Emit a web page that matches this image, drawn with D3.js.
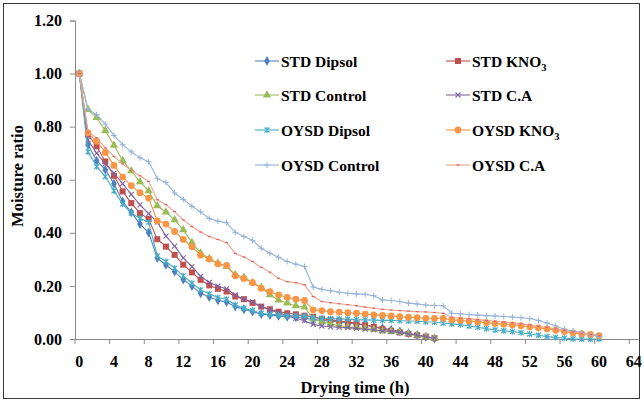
<!DOCTYPE html>
<html>
<head>
<meta charset="utf-8">
<script src="https://cdn.jsdelivr.net/npm/d3@7"></script>
<style>
  body { margin: 0; background: #fff; }
  text { font-family: "Liberation Serif", "Times New Roman", serif; font-weight: bold; fill: #000; }
</style>
</head>
<body>
<div id="chart"></div>
<script>
// hours on the category axis
var hours = d3.range(0, 65);
var xTicks = d3.range(0, 65, 4);
var yTicks = [0, 0.2, 0.4, 0.6, 0.8, 1.0, 1.2];

// moisture ratio, one value per hour
var stdDipsol = [1, 0.732, 0.672, 0.638, 0.585, 0.518, 0.477, 0.433, 0.401, 0.305, 0.279, 0.254, 0.224, 0.199, 0.172, 0.158, 0.146, 0.139, 0.122, 0.112, 0.103, 0.094, 0.090, 0.087, 0.084, 0.082, 0.078, 0.074, 0.070, 0.067, 0.064, 0.060, 0.057, 0.052, 0.046, 0.041, 0.035, 0.029, 0.022, 0.015, 0.008, 0.002];
var stdKNO3 = [1, 0.770, 0.726, 0.669, 0.615, 0.556, 0.512, 0.474, 0.452, 0.376, 0.348, 0.317, 0.280, 0.251, 0.223, 0.202, 0.189, 0.179, 0.160, 0.150, 0.136, 0.122, 0.112, 0.103, 0.097, 0.093, 0.088, 0.084, 0.076, 0.072, 0.068, 0.064, 0.059, 0.053, 0.046, 0.038, 0.031, 0.025, 0.019, 0.014, 0.009, 0.003];
var stdControl = [1, 0.864, 0.834, 0.785, 0.730, 0.672, 0.634, 0.592, 0.558, 0.502, 0.478, 0.449, 0.411, 0.363, 0.324, 0.303, 0.286, 0.273, 0.243, 0.232, 0.213, 0.195, 0.166, 0.147, 0.135, 0.125, 0.120, 0.076, 0.065, 0.057, 0.050, 0.046, 0.043, 0.040, 0.036, 0.030, 0.028, 0.024, 0.019, 0.013, 0.008, 0.003];
var stdCA = [1, 0.750, 0.700, 0.660, 0.625, 0.585, 0.545, 0.505, 0.472, 0.440, 0.388, 0.350, 0.306, 0.273, 0.236, 0.213, 0.199, 0.189, 0.166, 0.150, 0.140, 0.122, 0.109, 0.099, 0.088, 0.078, 0.069, 0.055, 0.049, 0.046, 0.044, 0.043, 0.040, 0.037, 0.034, 0.031, 0.028, 0.024, 0.019, 0.014, 0.009, 0.003];
var oysdDipsol = [1, 0.705, 0.650, 0.612, 0.558, 0.508, 0.474, 0.455, 0.440, 0.313, 0.292, 0.267, 0.238, 0.210, 0.185, 0.170, 0.156, 0.150, 0.128, 0.116, 0.107, 0.097, 0.093, 0.091, 0.088, 0.087, 0.087, 0.080, 0.078, 0.077, 0.076, 0.075, 0.073, 0.072, 0.071, 0.070, 0.070, 0.069, 0.068, 0.067, 0.065, 0.064, 0.060, 0.057, 0.054, 0.049, 0.044, 0.039, 0.034, 0.031, 0.028, 0.024, 0.019, 0.014, 0.009, 0.006, 0.003, 0.001, 0, 0, 0];
var oysdKNO3 = [1, 0.777, 0.745, 0.703, 0.654, 0.610, 0.578, 0.551, 0.531, 0.445, 0.433, 0.405, 0.375, 0.348, 0.316, 0.301, 0.283, 0.277, 0.238, 0.228, 0.212, 0.191, 0.178, 0.166, 0.157, 0.150, 0.145, 0.110, 0.107, 0.103, 0.101, 0.099, 0.097, 0.094, 0.091, 0.089, 0.087, 0.084, 0.082, 0.080, 0.078, 0.078, 0.078, 0.072, 0.070, 0.068, 0.064, 0.062, 0.058, 0.056, 0.053, 0.050, 0.046, 0.042, 0.038, 0.033, 0.028, 0.023, 0.019, 0.017, 0.013];
var oysdControl = [1, 0.866, 0.845, 0.810, 0.767, 0.732, 0.705, 0.683, 0.668, 0.604, 0.590, 0.550, 0.526, 0.500, 0.479, 0.454, 0.444, 0.438, 0.402, 0.386, 0.372, 0.342, 0.323, 0.308, 0.292, 0.282, 0.273, 0.196, 0.187, 0.182, 0.176, 0.172, 0.170, 0.168, 0.163, 0.147, 0.145, 0.141, 0.135, 0.132, 0.128, 0.126, 0.125, 0.097, 0.095, 0.092, 0.090, 0.088, 0.087, 0.085, 0.083, 0.080, 0.077, 0.070, 0.060, 0.049, 0.037, 0.030, 0.024, 0.017, 0.009];
var oysdCA = [1, 0.780, 0.758, 0.720, 0.688, 0.660, 0.635, 0.615, 0.594, 0.525, 0.506, 0.480, 0.449, 0.424, 0.403, 0.386, 0.375, 0.363, 0.322, 0.309, 0.292, 0.270, 0.252, 0.229, 0.216, 0.212, 0.204, 0.160, 0.141, 0.137, 0.133, 0.129, 0.125, 0.120, 0.116, 0.112, 0.109, 0.107, 0.105, 0.103, 0.102, 0.100, 0.097, 0.082, 0.079, 0.076, 0.073, 0.070, 0.067, 0.064, 0.061, 0.057, 0.053, 0.048, 0.043, 0.038, 0.033, 0.027, 0.022, 0.017, 0.012];

var series = [
  {name: "STD Dipsol", sub: "", values: stdDipsol, color: "#4F81BD", mark: "diamond"},
  {name: "STD KNO", sub: "3", values: stdKNO3, color: "#C0504D", mark: "square"},
  {name: "STD Control", sub: "", values: stdControl, color: "#9BBB59", mark: "triangle"},
  {name: "STD C.A", sub: "", values: stdCA, color: "#8064A2", mark: "cross"},
  {name: "OYSD Dipsol", sub: "", values: oysdDipsol, color: "#4BACC6", mark: "star"},
  {name: "OYSD KNO", sub: "3", values: oysdKNO3, color: "#F79646", mark: "circle"},
  {name: "OYSD Control", sub: "", values: oysdControl, color: "#95B3D7", mark: "plus"},
  {name: "OYSD C.A", sub: "", values: oysdCA, color: "#E9A38F", mark: "dash"}
];

var W = 644, H = 402;
var svg = d3.select("#chart").append("svg")
  .attr("width", W).attr("height", H);

// outer frame
svg.append("rect")
  .attr("x", 3.5).attr("y", 3.5)
  .attr("width", 636).attr("height", 395)
  .attr("fill", "none").attr("stroke", "#3a3a3a").attr("stroke-width", 1);

var x = d3.scaleBand().domain(hours).range([75, 638]);
var y = d3.scaleLinear().domain([0, 1.2]).range([339, 20.5]);
var cx = function(h) { return x(h) + x.bandwidth() / 2; };

//Y axis
var yAxis = svg.append("g")
  .attr("transform", "translate(75,0)")
  .call(d3.axisLeft(y).tickValues(yTicks).tickSize(5).tickPadding(8).tickFormat(d3.format(".2f")));
yAxis.selectAll("text").style("font-size", "16px");

//X axis: labels in the band centres, tick marks on the band edges
var xAxis = svg.append("g")
  .attr("transform", "translate(0,339)")
  .call(d3.axisBottom(x).tickValues(xTicks).tickSize(0).tickPadding(17));
xAxis.selectAll("text").style("font-size", "16px");
xAxis.selectAll(".tick").append("line")
  .attr("x1", -x.bandwidth() / 2).attr("x2", -x.bandwidth() / 2)
  .attr("y1", 0).attr("y2", 5);

svg.selectAll(".domain, .tick line")
  .attr("stroke", "#8a8a8a").attr("stroke-width", 1);

//Axis titles
svg.append("text")
  .attr("x", 355).attr("y", 393)
  .attr("text-anchor", "middle")
  .style("font-size", "16.5px")
  .text("Drying time (h)");
svg.append("text")
  .attr("transform", "translate(23,176) rotate(-90)")
  .attr("text-anchor", "middle")
  .style("font-size", "16.5px")
  .text("Moisture ratio");

//Markers
var drawMark = function(g, kind, color) {
  if (kind === "diamond") {
    g.append("path").attr("d", d3.symbol(d3.symbolDiamond, 28)()).attr("fill", color);
  } else if (kind === "square") {
    g.append("rect").attr("x", -3).attr("y", -3).attr("width", 6).attr("height", 6).attr("fill", color);
  } else if (kind === "triangle") {
    g.append("path").attr("d", d3.symbol(d3.symbolTriangle, 30)()).attr("fill", color);
  } else if (kind === "circle") {
    g.append("circle").attr("r", 3.4).attr("fill", color);
  } else if (kind === "cross") {
    g.append("path").attr("d", "M-2.5,-2.5L2.5,2.5M-2.5,2.5L2.5,-2.5")
      .attr("stroke", color).attr("stroke-width", 1.1).attr("fill", "none");
  } else if (kind === "star") {
    g.append("path").attr("d", "M-2.5,-2.5L2.5,2.5M-2.5,2.5L2.5,-2.5M0,-3L0,3")
      .attr("stroke", color).attr("stroke-width", 1.2).attr("fill", "none");
  } else if (kind === "plus") {
    g.append("path").attr("d", "M-3,0L3,0M0,-3L0,3")
      .attr("stroke", color).attr("stroke-width", 1).attr("fill", "none");
  } else if (kind === "dash") {
    g.append("path").attr("d", "M-1.5,0L1.5,0")
      .attr("stroke", "#E0625A").attr("stroke-width", 1.2).attr("fill", "none");
  }
};

var line = d3.line()
  .x(function(d, i) { return cx(i); })
  .y(function(d) { return y(d); });

series.forEach(function(s) {
  var g = svg.append("g").attr("class", "series");
  g.append("path")
    .attr("d", line(s.values))
    .attr("fill", "none")
    .attr("stroke", s.color)
    .attr("stroke-width", 1.1);
  s.values.forEach(function(v, i) {
    var m = g.append("g").attr("transform", "translate(" + cx(i) + "," + y(v) + ")");
    drawMark(m, s.mark, s.color);
  });
});

//Legend, two columns
var legCols = [255, 446], legRows = [61, 95, 130, 165];
series.forEach(function(s, i) {
  var lx = legCols[i % 2], ly = legRows[Math.floor(i / 2)];
  var g = svg.append("g").attr("transform", "translate(" + lx + "," + ly + ")");
  g.append("line").attr("x1", 0).attr("x2", 24).attr("y1", 0).attr("y2", 0)
    .attr("stroke", s.color).attr("stroke-width", 1.1);
  var m = g.append("g").attr("transform", "translate(12,0)");
  drawMark(m, s.mark, s.color);
  var t = g.append("text").attr("x", 26).attr("y", 5.5).style("font-size", "15.5px").text(s.name);
  if (s.sub) {
    t.append("tspan").attr("dy", 4).style("font-size", "10.5px").text(s.sub);
  }
});
</script>
</body>
</html>
